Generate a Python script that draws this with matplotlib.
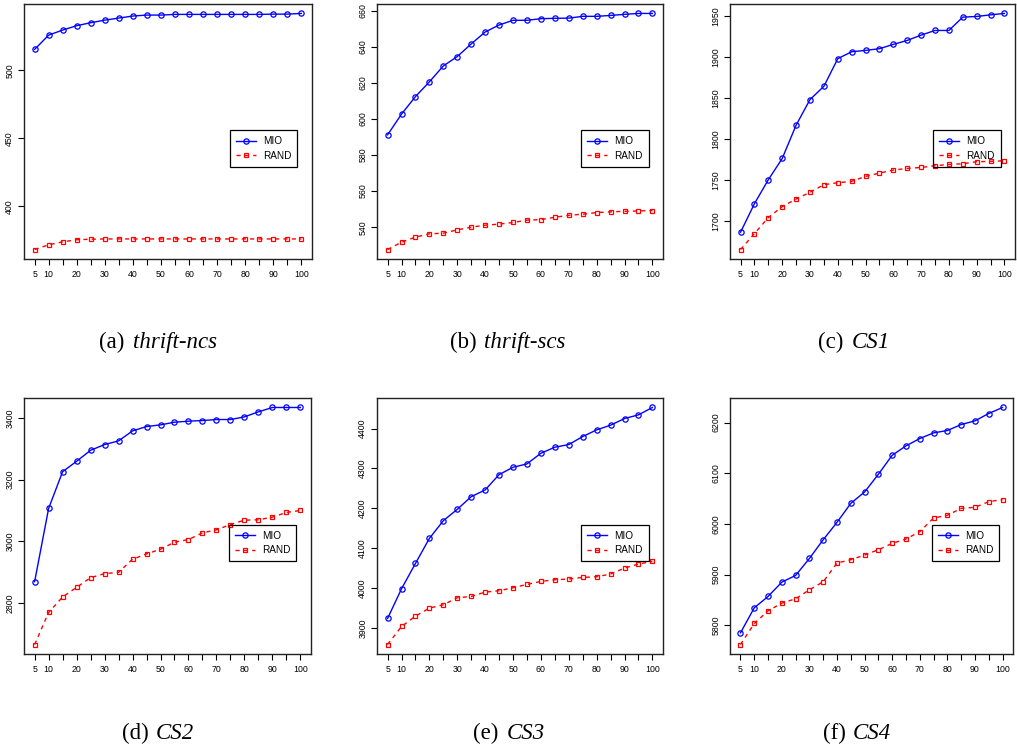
import matplotlib
matplotlib.use("Agg")
import matplotlib.pyplot as plt
from matplotlib.offsetbox import TextArea, HPacker, AnnotationBbox

# ---------------- data ----------------
x_vals = [5, 10, 15, 20, 25, 30, 35, 40, 45, 50, 55, 60, 65, 70, 75, 80, 85, 90, 95, 100]
x_tick_labels = ["5", "10", "", "20", "", "30", "", "40", "", "50", "", "60", "", "70", "",
                 "80", "", "90", "", "100"]
series_names = ["MIO", "RAND"]

captions_prefix = ["(a)", "(b)", "(c)", "(d)", "(e)", "(f)"]
captions_name = ["thrift-ncs", "thrift-scs", "CS1", "CS2", "CS3", "CS4"]

mio_a = [515.4, 525.9, 529.6, 532.8, 535.0, 536.9, 538.4, 539.9, 540.6, 540.6,
         541.1, 541.1, 541.1, 541.1, 541.1, 541.1, 541.1, 541.3, 541.3, 541.8]
rand_a = [368.2, 371.7, 373.9, 375.4, 375.8, 376.0, 376.0, 376.0, 376.0, 376.0,
          376.0, 376.0, 376.0, 376.0, 376.0, 376.0, 376.0, 376.0, 376.0, 376.0]

mio_b = [591.2, 602.7, 612.4, 620.6, 629.4, 634.6, 641.6, 648.2, 652.1, 654.7,
         654.7, 655.6, 655.8, 655.9, 656.9, 656.9, 657.4, 658.0, 658.5, 658.5]
rand_b = [527.6, 531.7, 534.5, 536.3, 536.7, 538.5, 540.0, 541.1, 541.7, 542.6,
          543.9, 544.2, 545.5, 546.6, 547.2, 548.1, 548.5, 548.8, 549.0, 549.2]

mio_c = [1686.2, 1721.1, 1750.4, 1776.4, 1817.1, 1848.4, 1864.6, 1898.4, 1906.9, 1908.5,
         1910.6, 1915.9, 1920.7, 1927.2, 1932.9, 1932.9, 1949.2, 1950.0, 1952.0, 1953.7]
rand_c = [1665.0, 1684.6, 1704.1, 1717.5, 1726.8, 1735.0, 1744.3, 1746.7, 1748.4, 1754.5,
          1758.5, 1762.2, 1764.2, 1765.4, 1767.5, 1769.1, 1769.9, 1772.4, 1772.8, 1773.6]

mio_d = [2869.3, 3106.5, 3225.6, 3259.2, 3294.9, 3313.4, 3325.3, 3357.8, 3371.8, 3377.3,
         3385.9, 3389.2, 3391.3, 3394.6, 3394.6, 3403.2, 3419.5, 3433.6, 3433.6, 3433.6]
rand_d = [2665.7, 2769.7, 2819.5, 2850.9, 2882.3, 2895.3, 2899.6, 2941.9, 2959.2, 2974.4,
          2997.1, 3005.8, 3027.4, 3037.2, 3054.5, 3068.6, 3069.7, 3078.3, 3093.5, 3100.0]

mio_e = [3923.5, 3998.0, 4061.6, 4124.4, 4168.8, 4197.3, 4229.1, 4245.9, 4284.4, 4302.8,
         4311.2, 4338.0, 4353.1, 4359.8, 4379.9, 4396.6, 4408.4, 4425.1, 4434.3, 4452.8]
rand_e = [3858.1, 3903.4, 3929.3, 3949.4, 3957.8, 3975.4, 3978.7, 3989.6, 3993.0, 4000.5,
          4008.9, 4016.4, 4020.6, 4022.3, 4026.5, 4028.1, 4034.9, 4049.9, 4059.9, 4066.7]

mio_f = [5784.8, 5834.3, 5856.7, 5885.0, 5898.2, 5931.8, 5968.7, 6003.0, 6040.5, 6062.9,
         6097.9, 6135.4, 6153.9, 6168.4, 6179.6, 6184.2, 6196.0, 6203.3, 6217.8, 6229.7]
rand_f = [5761.8, 5803.3, 5828.3, 5843.5, 5852.1, 5869.9, 5885.7, 5922.6, 5929.2, 5938.4,
          5949.0, 5961.4, 5970.0, 5984.5, 6011.5, 6016.8, 6030.6, 6032.6, 6043.8, 6047.8]

yticks_a = [400, 450, 500]
yticks_b = [540, 560, 580, 600, 620, 640, 660]
yticks_c = [1700, 1750, 1800, 1850, 1900, 1950]
yticks_d = [2800, 3000, 3200, 3400]
yticks_e = [3900, 4000, 4100, 4200, 4300, 4400]
yticks_f = [5800, 5900, 6000, 6100, 6200]

mio_all = [mio_a, mio_b, mio_c, mio_d, mio_e, mio_f]
rand_all = [rand_a, rand_b, rand_c, rand_d, rand_e, rand_f]
yticks_all = [yticks_a, yticks_b, yticks_c, yticks_d, yticks_e, yticks_f]

# ---------------- layout ----------------
W, H = 1017, 751
fig = plt.figure(figsize=(W / 100, H / 100), dpi=100)
fig.patch.set_facecolor("white")

# axes boxes in pixels: (left, top, right, bottom)
boxes = [
    (24, 4, 312, 259),
    (377, 4, 663, 259),
    (730, 4, 1015, 259),
    (24, 398, 311, 654),
    (377, 398, 663, 654),
    (730, 398, 1013, 654),
]
caption_pos = [(158, 342), (508, 342), (854, 342), (158, 733), (509, 733), (857, 733)]

sans = ["Liberation Sans", "DejaVu Sans"]
serif = ["Liberation Serif", "DejaVu Serif"]

for i in range(6):
    l, t, r, b = boxes[i]
    ax = fig.add_axes([l / W, 1 - b / H, (r - l) / W, (b - t) / H])
    ax.plot(x_vals, mio_all[i], color="#0000FF", lw=1.0, ls="-", marker="o",
            markersize=3.8, markerfacecolor="none", markeredgecolor="#0000FF",
            markeredgewidth=0.9, label=series_names[0])
    ax.plot(x_vals, rand_all[i], color="#FF0000", lw=1.0, ls=(0, (3, 3)), marker="s",
            markersize=3.4, markerfacecolor="none", markeredgecolor="#FF0000",
            markeredgewidth=0.9, label=series_names[1])
    ax.margins(x=0.04, y=0.04)
    ax.set_xticks(x_vals)
    ax.set_xticklabels(x_tick_labels, fontsize=6.3, family=sans)
    ax.set_yticks(yticks_all[i])
    ax.set_yticklabels([str(v) for v in yticks_all[i]], fontsize=6.3, family=sans,
                       rotation=90, va="center")
    ax.tick_params(axis="both", direction="out", length=4, width=0.8, color="black")
    ax.tick_params(axis="x", pad=4)
    ax.tick_params(axis="y", pad=3)
    for s in ax.spines.values():
        s.set_linewidth(1.0)
        s.set_color("#222222")
    leg = ax.legend(loc="upper left", bbox_to_anchor=(0.714, 0.505),
                    prop={"family": sans, "size": 7.2}, frameon=True, fancybox=False,
                    edgecolor="black", framealpha=1, handlelength=2.0,
                    handletextpad=0.7, borderpad=0.6, labelspacing=0.45,
                    borderaxespad=0)
    leg.get_frame().set_facecolor("none")
    leg.get_frame().set_linewidth(0.9)

    cx, cy = caption_pos[i]
    t1 = TextArea(captions_prefix[i], textprops=dict(family=serif, size=16.5))
    t2 = TextArea(captions_name[i], textprops=dict(family=serif, size=16.5, style="italic"))
    pack = HPacker(children=[t1, t2], align="baseline", pad=0, sep=5.5)
    ab = AnnotationBbox(pack, (cx, H - cy), xycoords="figure pixels", frameon=False,
                        box_alignment=(0.5, 0.5))
    fig.add_artist(ab)

fig.savefig("out.png", dpi=100, facecolor="white")
